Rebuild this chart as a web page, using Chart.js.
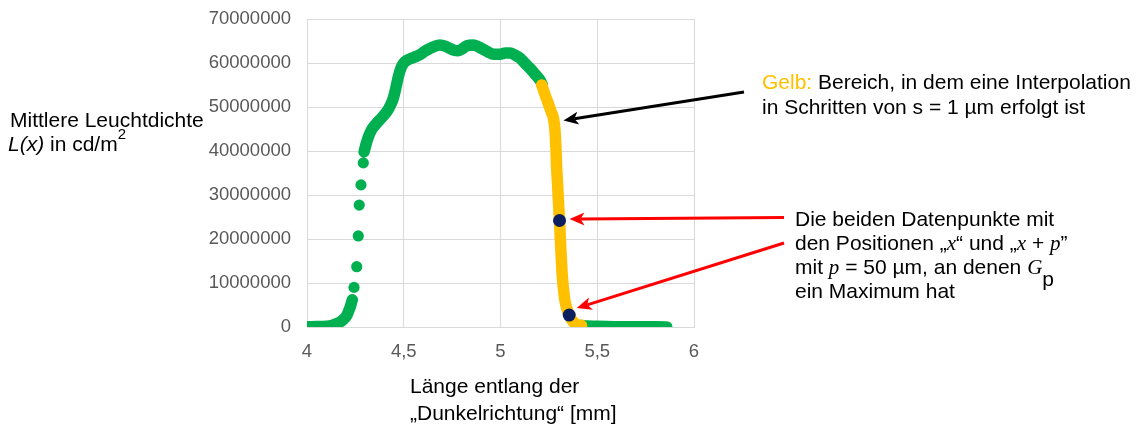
<!DOCTYPE html>
<html><head><meta charset="utf-8">
<script src="https://cdn.jsdelivr.net/npm/chart.js@4.4.0/dist/chart.umd.min.js"></script>
<style>html,body{margin:0;padding:0;background:#fff;overflow:hidden}canvas{display:block}</style>
</head><body>
<canvas id="c" width="1144" height="425"></canvas>
<script>
// ---- tick labels ----
const xTickValues = [4, 4.5, 5, 5.5, 6];
const xTickLabels = ['4', '4,5', '5', '5,5', '6'];
const yTickValues = [0, 10000000, 20000000, 30000000, 40000000, 50000000, 60000000, 70000000];
const yTickLabels = ['0', '10000000', '20000000', '30000000', '40000000', '50000000', '60000000', '70000000'];

// ---- measured data (green) ----
const footX = [4.00, 4.05, 4.10, 4.13, 4.15, 4.17, 4.19, 4.205, 4.215, 4.225, 4.234];
const footY = [50000, 100000, 200000, 400000, 700000, 1100000, 1800000, 2600000, 3600000, 4800000, 6200000];

const dotsX = [4.243, 4.257, 4.265, 4.270, 4.279, 4.291];
const dotsY = [9000000, 13700000, 20700000, 27700000, 32300000, 37300000];

const mainX = [4.295, 4.305, 4.317, 4.335, 4.360, 4.385, 4.412, 4.430, 4.446, 4.460, 4.472, 4.485, 4.500, 4.520, 4.541, 4.565, 4.584, 4.610, 4.636, 4.660, 4.687, 4.715, 4.739, 4.760, 4.782, 4.805, 4.825, 4.860, 4.885, 4.911, 4.940, 4.963, 4.997, 5.025, 5.049, 5.075, 5.101, 5.125, 5.152, 5.180, 5.204, 5.215];
const mainY = [39800000, 41500000, 43200000, 44900000, 46300000, 47500000, 48900000, 50300000, 52000000, 54500000, 56900000, 58800000, 60000000, 60700000, 61100000, 61500000, 61900000, 62700000, 63300000, 63800000, 64100000, 63800000, 63300000, 62900000, 62800000, 63300000, 63900000, 64100000, 63700000, 63100000, 62400000, 62000000, 62000000, 62300000, 62300000, 61800000, 61100000, 60000000, 58800000, 57400000, 56100000, 55200000];

const tailX = [5.419, 5.45, 5.50, 5.55, 5.60, 5.70, 5.80, 5.859];
const tailY = [350000, 250000, 150000, 100000, 80000, 50000, 30000, 20000];

// ---- interpolated region (yellow) ----
const interpX = [5.213, 5.230, 5.247, 5.262, 5.273, 5.282, 5.287, 5.290, 5.295, 5.299, 5.305, 5.311, 5.316, 5.321, 5.327, 5.333, 5.343, 5.355, 5.370, 5.385, 5.400, 5.419];
const interpY = [55000000, 52800000, 50800000, 48900000, 47600000, 44500000, 40000000, 36400000, 32500000, 28900000, 24200000, 18300000, 14000000, 10700000, 8000000, 6000000, 4200000, 2700000, 1500000, 800000, 500000, 350000];

// ---- the two points x and x+p ----
const maxX = [5.305, 5.355];
const maxY = [24200000, 2700000];

const GREEN = '#00B050', YELLOW = '#FFC000', NAVY = '#0B1F5E';
const SANSF = "'Liberation Sans', Arial, sans-serif";
const SERIFF = "'Liberation Serif', 'Times New Roman', serif";

const pts = (xs, ys) => xs.map((x, i) => ({ x: x, y: ys[i] }));
const band = (data, color, order) => ({
  data: data, showLine: true, borderColor: color, backgroundColor: color,
  borderWidth: 11.5, pointRadius: 0, borderCapStyle: 'round', borderJoinStyle: 'round',
  cubicInterpolationMode: 'monotone', order: order
});

function rich(ctx, x, y, segs) {
  let cx = x;
  for (const s of segs) {
    ctx.font = s.f;
    ctx.fillStyle = s.c || '#000';
    ctx.fillText(s.t, cx, y + (s.dy || 0));
    cx += ctx.measureText(s.t).width;
  }
}
function arrow(ctx, x1, y1, x2, y2, color) {
  const a = Math.atan2(y2 - y1, x2 - x1);
  const L = 15, W = 6.5, N = 11;
  ctx.save();
  ctx.strokeStyle = color; ctx.fillStyle = color; ctx.lineWidth = 3; ctx.lineCap = 'butt';
  ctx.beginPath();
  ctx.moveTo(x1, y1);
  ctx.lineTo(x2 - Math.cos(a) * N, y2 - Math.sin(a) * N);
  ctx.stroke();
  const bx = x2 - Math.cos(a) * L, by = y2 - Math.sin(a) * L;
  const nx = -Math.sin(a), ny = Math.cos(a);
  ctx.beginPath();
  ctx.moveTo(x2, y2);
  ctx.lineTo(bx + nx * W, by + ny * W);
  ctx.lineTo(x2 - Math.cos(a) * N, y2 - Math.sin(a) * N);
  ctx.lineTo(bx - nx * W, by - ny * W);
  ctx.closePath();
  ctx.fill();
  ctx.restore();
}

const annot = {
  id: 'annot',
  afterDraw(chart) {
    const ctx = chart.ctx;
    const sx = chart.scales.x, sy = chart.scales.y;
    ctx.save();
    ctx.textBaseline = 'alphabetic';
    ctx.textAlign = 'left';
    const F = '21px ' + SANSF, FI = 'italic 21px ' + SANSF, FS = 'italic 21px ' + SERIFF;
    // y title
    rich(ctx, 10, 127, [{ t: 'Mittlere Leuchtdichte', f: F }]);
    rich(ctx, 8, 150.5, [{ t: 'L(x)', f: FI }, { t: ' in cd/m', f: F }, { t: '2', f: '15px ' + SANSF, dy: -12 }]);
    // x title
    rich(ctx, 410, 392.5, [{ t: 'Länge entlang der', f: F }]);
    rich(ctx, 410, 420, [{ t: '„Dunkelrichtung“ [mm]', f: F }]);
    // annotation 1
    rich(ctx, 762, 89, [{ t: 'Gelb:', f: F, c: YELLOW }, { t: ' Bereich, in dem eine Interpolation', f: F }]);
    rich(ctx, 762, 113.5, [{ t: 'in Schritten von s = 1 µm erfolgt ist', f: F }]);
    // annotation 2
    rich(ctx, 795, 226, [{ t: 'Die beiden Datenpunkte mit', f: F }]);
    rich(ctx, 795, 250, [{ t: 'den Positionen „', f: F }, { t: 'x', f: FS }, { t: '“ und „', f: F }, { t: 'x', f: FS }, { t: ' + ', f: F }, { t: 'p', f: FS }, { t: '”', f: F }]);
    rich(ctx, 795, 274, [{ t: 'mit ', f: F }, { t: 'p', f: FS }, { t: ' = 50 µm, an denen ', f: F }, { t: 'G', f: FS }, { t: 'p', f: F, dy: 12 }]);
    rich(ctx, 795, 298, [{ t: 'ein Maximum hat', f: F }]);
    // arrows, tips anchored to the curve via scales
    const p1x = sx.getPixelForValue(maxX[0]), p1y = sy.getPixelForValue(maxY[0]);
    const p2x = sx.getPixelForValue(maxX[1]), p2y = sy.getPixelForValue(maxY[1]);
    arrow(ctx, 744, 92, 563.5, 120.5, '#000');
    arrow(ctx, 784, 217.5, p1x + 10, p1y - 1.5, '#FF0000');
    arrow(ctx, 784, 243, p2x + 7.5, p2y - 7, '#FF0000');
    ctx.restore();
  }
};

new Chart(document.getElementById('c'), {
  type: 'scatter',
  data: {
    datasets: [
      { data: pts(maxX, maxY), backgroundColor: NAVY, borderColor: NAVY, pointRadius: 6.5, borderWidth: 0, order: 0 },
      band(pts(interpX, interpY), YELLOW, 1),
      { data: pts(dotsX, dotsY), backgroundColor: GREEN, borderColor: GREEN, pointRadius: 5.6, borderWidth: 0, order: 2 },
      band(pts(footX, footY), GREEN, 3),
      band(pts(mainX, mainY), GREEN, 3),
      band(pts(tailX, tailY), GREEN, 3)
    ]
  },
  options: {
    responsive: false, animation: false, devicePixelRatio: 1,
    layout: { padding: { left: 200, right: 450, top: 19, bottom: 0 } },
    plugins: { legend: { display: false }, tooltip: { enabled: false } },
    scales: {
      x: {
        type: 'linear', min: 4, max: 6,
        afterBuildTicks: s => { s.ticks = xTickValues.map(v => ({ value: v })); },
        afterFit: s => { s.height = 98; },
        grid: { color: '#D9D9D9', lineWidth: 1, drawTicks: false },
        border: { color: '#D9D9D9' },
        ticks: { padding: 14, color: '#595959', font: { family: SANSF, size: 18.5 },
          callback: v => xTickLabels[xTickValues.indexOf(v)] }
      },
      y: {
        type: 'linear', min: 0, max: 70000000,
        afterBuildTicks: s => { s.ticks = yTickValues.map(v => ({ value: v })); },
        afterFit: s => { s.width = 107; s.paddingTop = 0; s.paddingBottom = 0; },
        grid: { color: '#D9D9D9', lineWidth: 1, drawTicks: false },
        border: { color: '#D9D9D9' },
        ticks: { padding: 16, color: '#595959', font: { family: SANSF, size: 18.5 },
          callback: v => yTickLabels[yTickValues.indexOf(v)] }
      }
    }
  },
  plugins: [annot]
});
</script>
</body></html>
